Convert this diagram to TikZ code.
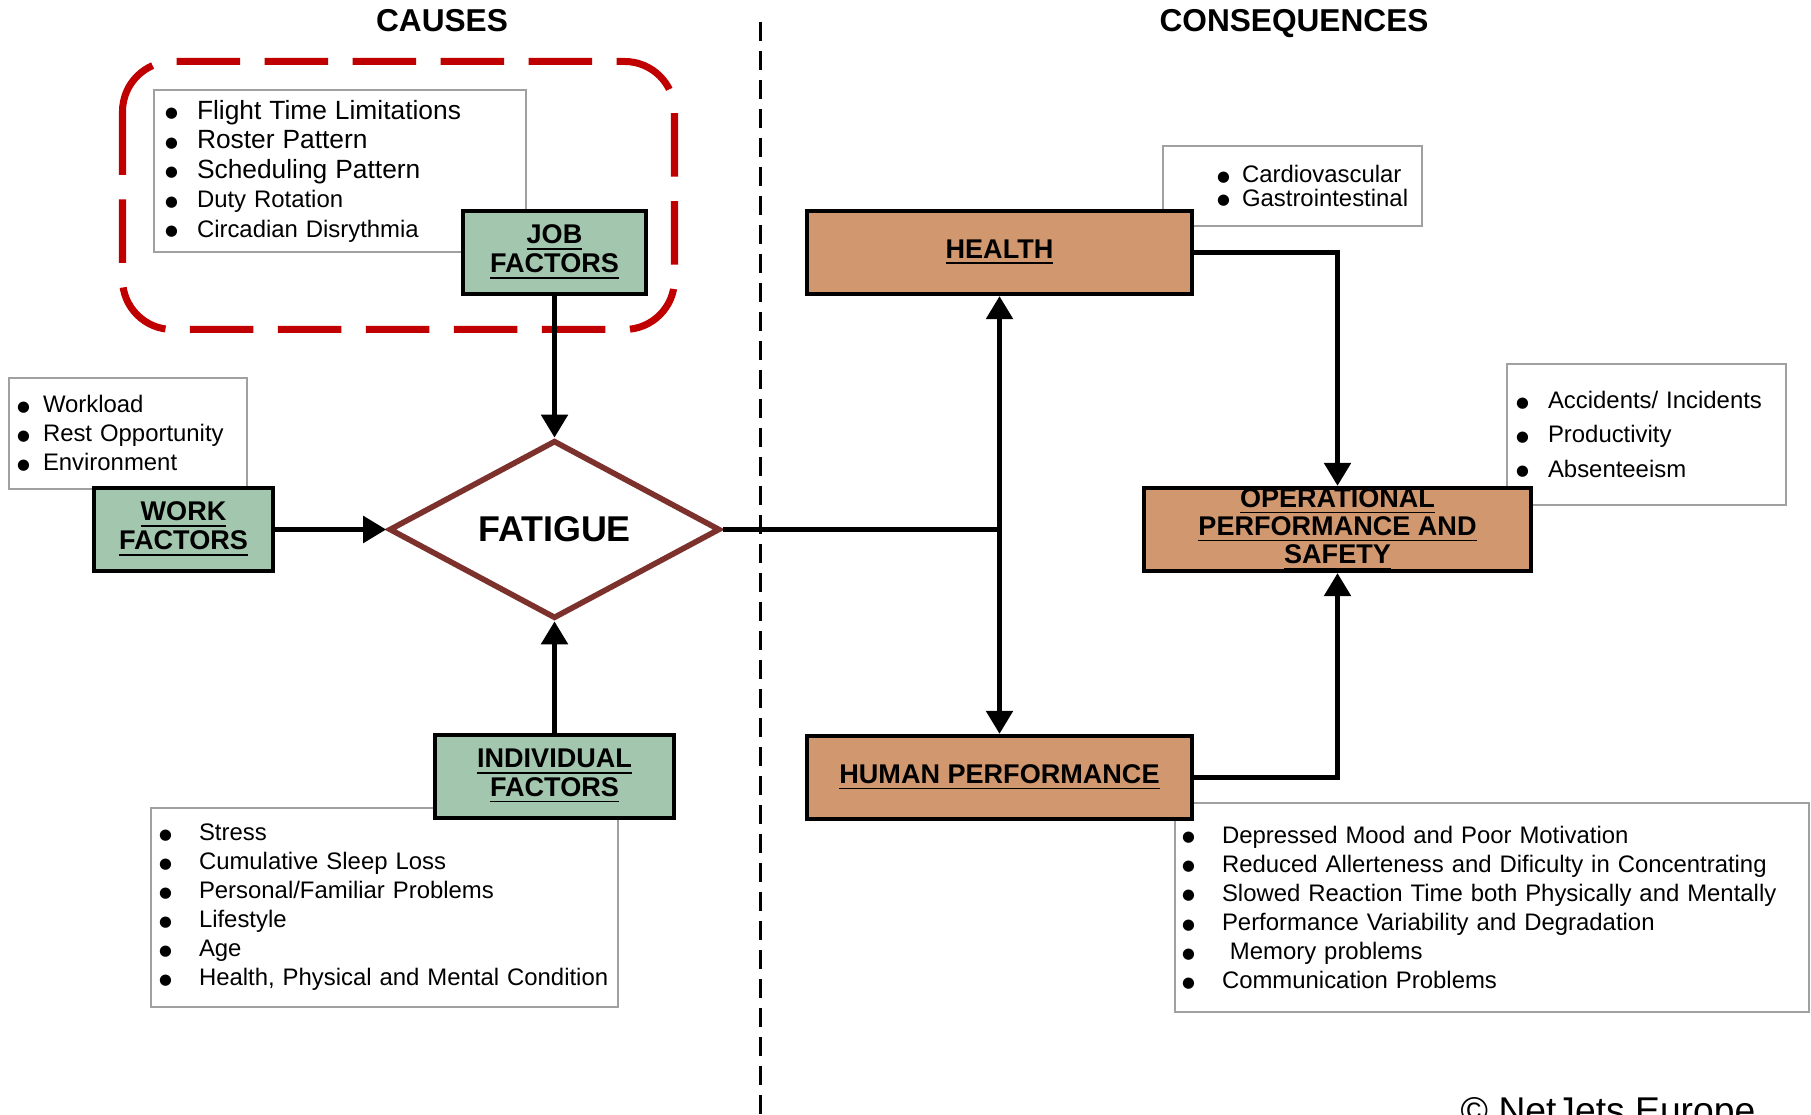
\documentclass[tikz,border=0pt]{standalone}
\usepackage{fontspec}
\setmainfont{Liberation Sans}
\newfontfamily\dotfont{DejaVu Sans}
\usetikzlibrary{arrows.meta,shapes.geometric}
\setlength{\parindent}{0pt}
\definecolor{factorgreen}{RGB}{163,199,174}
\definecolor{effecttan}{RGB}{209,152,111}
\definecolor{fatiguebrown}{RGB}{124,49,44}
\definecolor{jobred}{RGB}{192,0,0}
\definecolor{listgray}{RGB}{160,160,160}
\newcommand{\bitem}[2]{\makebox[#1][l]{\raisebox{0.4pt}{\fontsize{4.2}{4.2}\dotfont ●}}{#2}}
\begin{document}
\begin{tikzpicture}[>={Triangle[length=0.23cm,width=0.26cm]},
  factor/.style={draw, line width=1.2pt, fill=factorgreen, minimum height=0.83cm, align=center, font=\fontsize{7.7}{8.2}\selectfont\bfseries},
  effect/.style={factor, fill=effecttan},
  listbox/.style={draw=listgray, line width=0.5pt, inner ysep=0pt, align=left},
  title/.style={anchor=base, font=\fontsize{9}{10}\selectfont\bfseries},
  link/.style={line width=1.5pt}]
\useasboundingbox (0,0) rectangle (18.11,11.15);
\node[title] (causes) at (4.42,10.83) {CAUSES};
\node[title] (consequences) at (12.94,10.83) {CONSEQUENCES};
\draw[line width=0.85pt, dash pattern=on 0.19cm off 0.10cm] (7.60,10.93) -- (7.60,0);
\draw[jobred, line width=2pt, dash pattern=on 0.635cm off 0.245cm, rounded corners=0.5cm] (1.225,10.535) rectangle (6.745,7.855);
% lists of causes and consequences
\node[listbox, text width=3.50cm, inner xsep=0.11cm, minimum height=1.62cm, font=\fontsize{6.8}{8.4}\selectfont] (joblist) at (3.40,9.44)
  {\bitem{0.32cm}{\fontsize{7.5}{8.4}\selectfont Flight Time Limitations}\\
   \bitem{0.32cm}{\fontsize{7.5}{8.4}\selectfont Roster Pattern}\\
   \bitem{0.32cm}{\fontsize{7.5}{8.4}\selectfont Scheduling Pattern}\\
   \bitem{0.32cm}{Duty Rotation}\\
   \bitem{0.32cm}{Circadian Disrythmia}};
\node[listbox, text width=2.22cm, inner xsep=0.08cm, minimum height=1.11cm, font=\fontsize{6.8}{8.25}\selectfont] (worklist) at (1.28,6.815)
  {\bitem{0.26cm}{Workload}\\
   \bitem{0.26cm}{Rest Opportunity}\\
   \bitem{0.26cm}{Environment}};
\node[listbox, text width=4.51cm, inner xsep=0.08cm, minimum height=1.99cm, font=\fontsize{6.8}{8.25}\selectfont] (indivlist) at (3.845,2.075)
  {\bitem{0.40cm}{Stress}\\
   \bitem{0.40cm}{Cumulative Sleep Loss}\\
   \bitem{0.40cm}{Personal/Familiar Problems}\\
   \bitem{0.40cm}{Lifestyle}\\
   \bitem{0.40cm}{Age}\\
   \bitem{0.40cm}{Health, Physical and Mental Condition}};
\node[listbox, text width=2.33cm, inner xsep=0.13cm, minimum height=0.80cm, font=\fontsize{6.8}{6.8}\selectfont] (healthlist) at (12.925,9.29)
  {\hspace*{0.41cm}\bitem{0.25cm}{Cardiovascular}\\
   \hspace*{0.41cm}\bitem{0.25cm}{Gastrointestinal}};
\node[listbox, text width=2.61cm, inner xsep=0.09cm, minimum height=1.41cm, font=\fontsize{6.8}{9.7}\selectfont] (opslist) at (16.465,6.805)
  {\bitem{0.32cm}{Accidents/ Incidents}\\
   \bitem{0.32cm}{Productivity}\\
   \bitem{0.32cm}{Absenteeism}};
\node[listbox, text width=6.20cm, inner xsep=0.07cm, minimum height=2.09cm, font=\fontsize{6.8}{8.3}\selectfont] (humanlist) at (14.92,2.075)
  {\bitem{0.40cm}{Depressed Mood and Poor Motivation}\\
   \bitem{0.40cm}{Reduced Allerteness and Dificulty in Concentrating}\\
   \bitem{0.40cm}{Slowed Reaction Time both Physically and Mentally}\\
   \bitem{0.40cm}{Performance Variability and Degradation}\\
   \bitem{0.40cm}{\ Memory problems}\\
   \bitem{0.40cm}{Communication Problems}};
% factor and effect boxes
\node[factor, minimum width=1.83cm] (job) at (5.545,8.625) {\underline{JOB}\\\underline{FACTORS}};
\node[factor, minimum width=1.79cm] (work) at (1.835,5.855) {\underline{WORK}\\\underline{FACTORS}};
\node[factor, minimum width=2.39cm] (indiv) at (5.545,3.385) {\underline{INDIVIDUAL}\\\underline{FACTORS}};
\node[diamond, draw=fatiguebrown, line width=1.6pt, fill=white, minimum width=3.31cm, minimum height=1.71cm, inner sep=0pt, font=\fontsize{10.2}{12}\selectfont\bfseries] (fatigue) at (5.545,5.855) {FATIGUE};
\node[effect, minimum width=3.85cm] (health) at (9.995,8.625) {\underline{HEALTH}};
\node[effect, minimum width=3.87cm, inner ysep=0pt, font=\fontsize{7.7}{8.0}\selectfont\bfseries] (ops) at (13.375,5.855) {\underline{OPERATIONAL}\\\underline{PERFORMANCE AND}\\\underline{SAFETY}};
\node[effect, minimum width=3.85cm] (human) at (9.995,3.375) {\underline{HUMAN PERFORMANCE}};
\coordinate (jn) at (9.995,5.855);
\draw[link,->] (job.south) -- (fatigue.north);
\draw[link,->] (work.east) -- (fatigue.west);
\draw[link,->] (indiv.north) -- (fatigue.south);
\draw[link] (fatigue.east) -- (jn);
\draw[link,->] (jn) -- (health.south);
\draw[link,->] (jn) -- (human.north);
\draw[link,->] (health.east) -| (ops.north);
\draw[link,->] (human.east) -| (ops.south);
\node[anchor=base west, inner sep=0pt, font=\fontsize{10.6}{12}\selectfont] (copyright) at (14.60,-0.09) {© NetJets Europe};
\end{tikzpicture}
\end{document}
